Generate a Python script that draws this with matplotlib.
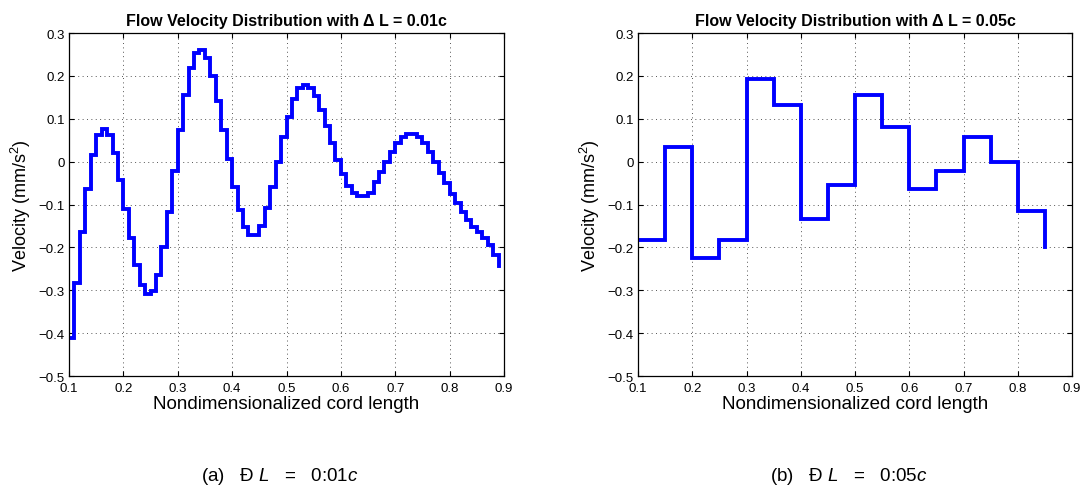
import numpy as np
import matplotlib
matplotlib.use("Agg")
import matplotlib.pyplot as plt
from matplotlib import font_manager

# ---------------- data ----------------
x_start = 0.10
dl_a = 0.01
vel_a = [-0.412, -0.283, -0.164, -0.064, 0.016, 0.062, 0.076, 0.061, 0.019, -0.043,
         -0.110, -0.179, -0.242, -0.287, -0.308, -0.302, -0.265, -0.200, -0.117, -0.023,
         0.074, 0.156, 0.218, 0.253, 0.261, 0.242, 0.199, 0.142, 0.074, 0.005,
         -0.060, -0.113, -0.152, -0.170, -0.170, -0.150, -0.109, -0.060, 0.000, 0.057,
         0.105, 0.147, 0.171, 0.179, 0.171, 0.152, 0.121, 0.082, 0.043, 0.004,
         -0.029, -0.056, -0.074, -0.080, -0.080, -0.074, -0.048, -0.025, 0.000, 0.023,
         0.043, 0.057, 0.064, 0.064, 0.058, 0.043, 0.023, 0.000, -0.027, -0.051,
         -0.076, -0.097, -0.117, -0.136, -0.152, -0.164, -0.178, -0.195, -0.217, -0.243]
dl_b = 0.05
vel_b = [-0.182, 0.035, -0.224, -0.182, 0.192, 0.132, -0.134, -0.054,
         0.156, 0.080, -0.063, -0.023, 0.058, -0.002, -0.116, -0.198]

titles = ["Flow Velocity Distribution with \u0394 L = 0.01c",
          "Flow Velocity Distribution with \u0394 L = 0.05c"]
captions = [r"(a)   Ð $L$   =   0:01$c$", r"(b)   Ð $L$   =   0:05$c$"]
xlabel = "Nondimensionalized cord length"
ylabel = r"Velocity (mm/s$^2$)"
xticks = [0.1, 0.2, 0.3, 0.4, 0.5, 0.6, 0.7, 0.8, 0.9]
yticks = [-0.5, -0.4, -0.3, -0.2, -0.1, 0, 0.1, 0.2, 0.3]

# ---------------- fonts ----------------
avail = {f.name for f in font_manager.fontManager.ttflist}
base_font = "Liberation Sans" if "Liberation Sans" in avail else "DejaVu Sans"
narrow_font = "Liberation Sans Narrow" if "Liberation Sans Narrow" in avail else base_font
plt.rcParams["font.family"] = [base_font, "DejaVu Sans"]
plt.rcParams["mathtext.fontset"] = "custom"
plt.rcParams["mathtext.rm"] = base_font
plt.rcParams["mathtext.it"] = base_font + ":italic"

W, H = 1083, 489
fig = plt.figure(figsize=(W / 100, H / 100), dpi=100)

axes_px = [(69, 504), (638, 1072)]
top_px, bot_px = 34, 377
ax_h = bot_px - top_px

datasets = [
    (x_start + dl_a * np.arange(len(vel_a)), vel_a),
    (x_start + dl_b * np.arange(len(vel_b)), vel_b),
]

for i, ((l, r), (xs, ys)) in enumerate(zip(axes_px, datasets)):
    ax_w = r - l
    ax = fig.add_axes([l / W, (H - bot_px) / H, ax_w / W, ax_h / H])
    ax.step(xs, ys, where="post", color="#0000FF", lw=2.8, solid_joinstyle="miter")
    ax.set_xlim(0.1, 0.9)
    ax.set_ylim(-0.5, 0.3)
    ax.set_xticks(xticks)
    ax.set_yticks(yticks)
    ax.set_xticklabels([f"{t:g}" for t in xticks])
    ax.set_yticklabels([("\u2212" if t < 0 else "") + f"{abs(t):g}" for t in yticks])
    ax.tick_params(direction="in", length=3.5, width=0.8, top=True, right=True,
                   labelsize=9.5, colors="black")
    ax.tick_params(axis="x", pad=4.5)
    ax.tick_params(axis="y", pad=3)
    ax.grid(True, linestyle=(0, (1, 3.5)), color="#555555", lw=0.7)
    for s in ax.spines.values():
        s.set_linewidth(0.9)
        s.set_color("black")
    ax.set_title(titles[i], fontsize=11.5, fontweight="bold", pad=6)
    ax.set_xlabel(xlabel, fontsize=13.5)
    ax.xaxis.set_label_coords(0.5, -19 / ax_h)
    ax.set_ylabel(ylabel, fontsize=13)
    ax.yaxis.set_label_coords(-36 / ax_w, 0.5)
    cx = (l + r) / 2 / W
    fig.text(cx - 0.006, 1 - 477 / H, captions[i], ha="center", va="center",
             fontsize=13.5, family=[narrow_font, "DejaVu Sans"])

fig.savefig("out.png", dpi=100)
